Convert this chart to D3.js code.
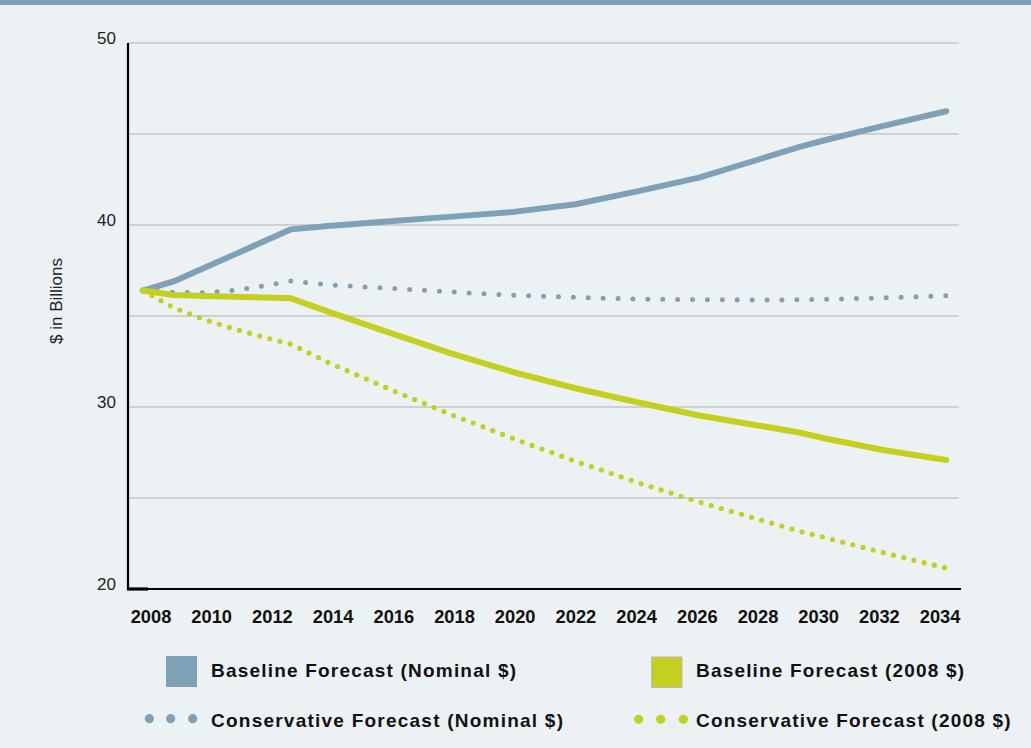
<!DOCTYPE html>
<html>
<head>
<meta charset="utf-8">
<script src="https://cdn.jsdelivr.net/npm/d3@7/dist/d3.min.js"></script>
<style>
  html, body { margin: 0; padding: 0; background: #ecf1f4; }
  svg { display: block; font-family: "Liberation Sans", Arial, Helvetica, sans-serif; }
</style>
</head>
<body>
<svg id="chart" width="1031" height="748"></svg>
<script>
// ---- data ----
const years = [2008, 2009, 2010, 2011, 2012, 2012.8, 2014, 2016, 2018, 2020, 2022, 2024, 2026, 2028, 2029.2, 2030, 2032, 2034];
const baselineNominal = [36.4, 36.9, 37.65, 38.4, 39.16, 39.76, 39.94, 40.21, 40.46, 40.72, 41.14, 41.85, 42.6, 43.64, 44.27, 44.63, 45.46, 46.25];
const baseline2008 = [36.4, 36.15, 36.1, 36.06, 36.01, 35.97, 35.24, 34.07, 32.93, 31.91, 31.03, 30.26, 29.53, 28.96, 28.61, 28.3, 27.62, 27.09];
const conservativeNominal = [36.4, 36.3, 36.27, 36.42, 36.68, 36.92, 36.71, 36.52, 36.32, 36.14, 36.02, 35.93, 35.9, 35.88, 35.89, 35.91, 36.0, 36.12];
const conservative2008 = [36.4, 35.46, 34.8, 34.27, 33.8, 33.45, 32.45, 30.97, 29.57, 28.26, 27.02, 25.86, 24.78, 23.79, 23.2, 22.86, 21.98, 21.15];
const xTickLabels = [2008, 2010, 2012, 2014, 2016, 2018, 2020, 2022, 2024, 2026, 2028, 2030, 2032, 2034];
const yGridValues = [20, 25, 30, 35, 40, 45, 50];
const yTickLabels = [20, 30, 40, 50];
const yTitle = "$ in Billions";
const legendLabels = [
  "Baseline Forecast (Nominal $)",
  "Baseline Forecast (2008 $)",
  "Conservative Forecast (Nominal $)",
  "Conservative Forecast (2008 $)"
];

// ---- styles ----
const BLUE = "#7fa1b8";
const GREEN = "#c5cf1f";

const svg = d3.select("#chart");

// background & top band
svg.append("rect").attr("x", 0).attr("y", 0).attr("width", 1031).attr("height", 748).attr("fill", "#ecf1f4");
svg.append("rect").attr("x", 0).attr("y", 0).attr("width", 1031).attr("height", 5).attr("fill", "#7fa0b7");

// scales
const x = d3.scaleLinear().domain([2008, 2034]).range([142.7, 946.3]);
const xLabel = d3.scaleLinear().domain([2008, 2034]).range([150.5, 939.6]);
const y = d3.scaleLinear().domain([20, 50]).range([589, 43]);

// gridlines
svg.append("g").selectAll("line").data(yGridValues.filter(v => v !== 20)).join("line")
  .attr("x1", 128).attr("x2", 958.5)
  .attr("y1", d => y(d)).attr("y2", d => y(d))
  .attr("stroke", "#c4c6ca").attr("stroke-width", 1.7);

// y axis labels (drawn via d3 axis, domain hidden)
const yAxis = svg.append("g").attr("transform", "translate(116,1)")
  .call(d3.axisLeft(y).tickValues(yTickLabels).tickSize(0).tickPadding(0).tickFormat(d3.format("d")));
yAxis.select(".domain").remove();
yAxis.selectAll("text")
  .attr("font-size", 17).attr("fill", "#222").attr("font-family", "Liberation Sans, Arial, sans-serif")
  .attr("dy", 0).attr("y", -1);

// y title
svg.append("text")
  .attr("transform", "translate(62,301) rotate(-90)")
  .attr("text-anchor", "middle")
  .attr("font-size", 17).attr("fill", "#222")
  .text(yTitle);

// x axis labels
const xAxis = svg.append("g").attr("transform", "translate(0,623)")
  .call(d3.axisBottom(xLabel).tickValues(xTickLabels).tickSize(0).tickPadding(0).tickFormat(d3.format("d")));
xAxis.select(".domain").remove();
xAxis.selectAll("text")
  .attr("font-size", 18.3).attr("font-weight", "bold").attr("fill", "#111")
  .attr("font-family", "Liberation Sans, Arial, sans-serif")
  .attr("dy", 0).attr("y", 0);

// axis lines
svg.append("line").attr("x1", 128).attr("x2", 128).attr("y1", 43).attr("y2", 590)
  .attr("stroke", "#000").attr("stroke-width", 2.2);
svg.append("line").attr("x1", 127).attr("x2", 961).attr("y1", 589).attr("y2", 589)
  .attr("stroke", "#000").attr("stroke-width", 2.2);
svg.append("line").attr("x1", 127).attr("x2", 148).attr("y1", 589).attr("y2", 589)
  .attr("stroke", "#000").attr("stroke-width", 3.2);

// lines
const lineGen = d3.line().x(d => x(d[0])).y(d => y(d[1]));
const zipSeries = vals => years.map((yr, i) => [yr, vals[i]]);

const g = svg.append("g");
g.append("path").datum(zipSeries(conservativeNominal))
  .attr("d", lineGen).attr("fill", "none").attr("stroke", BLUE)
  .attr("stroke-width", 5).attr("stroke-linecap", "round").attr("stroke-dasharray", "0 14.9");
g.append("path").datum(zipSeries(baselineNominal))
  .attr("d", lineGen).attr("fill", "none").attr("stroke", BLUE)
  .attr("stroke-width", 6).attr("stroke-linecap", "round").attr("stroke-linejoin", "round");
g.append("path").datum(zipSeries(baseline2008))
  .attr("d", lineGen).attr("fill", "none").attr("stroke", GREEN)
  .attr("stroke-width", 6).attr("stroke-linecap", "round").attr("stroke-linejoin", "round");
g.append("path").datum(zipSeries(conservative2008))
  .attr("d", lineGen).attr("fill", "none").attr("stroke", GREEN)
  .attr("stroke-width", 5.2).attr("stroke-linecap", "round").attr("stroke-dasharray", "0 10.5");

// legend
const lg = svg.append("g").attr("font-weight", "bold").attr("font-size", 19).attr("fill", "#111");
// baseline nominal
lg.append("rect").attr("x", 166).attr("y", 656).attr("width", 31).attr("height", 31).attr("fill", BLUE);
lg.append("text").attr("x", 211).attr("y", 676.5).attr("textLength", 305).attr("lengthAdjust", "spacing").text(legendLabels[0]);
// baseline 2008
lg.append("rect").attr("x", 651.5).attr("y", 657).attr("width", 30.5).attr("height", 30.5)
  .attr("fill", GREEN).attr("stroke", "#b8bcbe").attr("stroke-width", 1);
lg.append("text").attr("x", 696).attr("y", 676.5).attr("textLength", 268).attr("lengthAdjust", "spacing").text(legendLabels[1]);
// conservative nominal
[149.3, 170.7, 192.7].forEach(cx => lg.append("circle").attr("cx", cx).attr("cy", 718.7).attr("r", 4.6).attr("fill", BLUE));
lg.append("text").attr("x", 211).attr("y", 726.5).attr("textLength", 352).attr("lengthAdjust", "spacing").text(legendLabels[2]);
// conservative 2008
[638.7, 660.7, 683.3].forEach(cx => lg.append("circle").attr("cx", cx).attr("cy", 719.3).attr("r", 4.6).attr("fill", GREEN));
lg.append("text").attr("x", 696).attr("y", 726.5).attr("textLength", 314.5).attr("lengthAdjust", "spacing").text(legendLabels[3]);
</script>
</body>
</html>
